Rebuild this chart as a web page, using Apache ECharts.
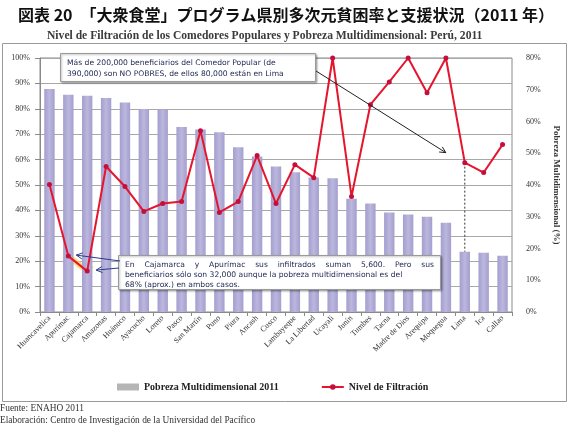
<!DOCTYPE html>
<html><head><meta charset="utf-8">
<script src="https://cdn.jsdelivr.net/npm/echarts@6/dist/echarts.min.js"></script>
<style>html,body{margin:0;padding:0;background:#fff}#c{width:572px;height:442px}</style>
</head><body><div id="c"></div>
<script>
const categories = ['Huancavelica','Apurímac','Cajamarca','Amazonas','Huánuco','Ayacucho','Loreto','Pasco','San Martín','Puno','Piura','Ancash','Cusco','Lambayeque','La Libertad','Ucayali','Junín','Tumbes','Tacna','Madre de Dios','Arequipa','Moquegua','Lima','Ica','Callao'];
const pobreza = [70.2,68.4,68.1,67.4,66.0,63.9,63.7,58.3,57.5,56.6,51.9,49.0,45.8,44.0,42.4,42.1,35.7,34.2,31.3,30.7,30.0,28.1,19.0,18.7,17.7];
const filtracion = [50.2,22.0,16.1,57.3,49.4,39.6,42.7,43.5,71.4,39.2,43.5,61.6,42.7,58.0,52.9,100,45.5,81.6,90.6,100,86.3,100,58.8,54.9,65.9];
const leftAxisMax = 100, leftAxisStep = 10;
const rightAxisMax = 80, rightAxisStep = 10;
const seriesNames = ['Pobreza Multidimensional 2011','Nivel de Filtración'];
const mainTitle = '図表 20　「大衆食堂」プログラム県別多次元貧困率と支援状況（2011 年）';
const subTitle = 'Nivel de Filtración de los Comedores Populares y Pobreza Multidimensional: Perú, 2011';
const note1 = ['Más de 200,000 beneficiarios del Comedor Popular (de','390,000) son NO POBRES, de ellos 80,000 están en Lima'];
const note2 = ['En Cajamarca y Apurímac sus infiltrados suman 5,600. Pero sus','beneficiarios sólo son 32,000 aunque la pobreza multidimensional es del','68% (aprox.) en ambos casos.'];
const footer = ['Fuente: ENAHO 2011','Elaboración: Centro de Investigación de la Universidad del Pacífico'];

const chart = echarts.init(document.getElementById('c'), null, {renderer:'canvas'});
const serif = "'Liberation Serif', 'Times New Roman', serif";
const option = {
  animation:false,
  backgroundColor:'#fff',
  textStyle:{fontFamily:serif},
  title:[
    {text:mainTitle, left:'center', top:2, textStyle:{fontFamily:'Noto Sans CJK JP', fontWeight:'bold', fontSize:16, color:'#111'}},
    {text:subTitle, left:42, top:25, textStyle:{fontFamily:serif, fontWeight:'bold', fontSize:11.6, color:'#3a3a3a'}}
  ],
  grid:{left:40, right:60, top:58, height:254, show:true, borderColor:'#8a8a8a', borderWidth:1, backgroundColor:'#fff'},
  legend:{
    left:112, top:377, itemWidth:22, itemHeight:7, itemGap:42,
    textStyle:{fontFamily:serif, fontWeight:'bold', fontSize:10, color:'#222'},
    data:[{name:seriesNames[0], icon:'rect', itemStyle:{color:'#b5b5b5'}}, {name:seriesNames[1]}]
  },
  xAxis:{
    type:'category', data:categories,
    axisLine:{lineStyle:{color:'#8a8a8a'}},
    axisTick:{show:true, lineStyle:{color:'#8a8a8a'}, length:4},
    axisLabel:{rotate:45, interval:0, fontSize:8, color:'#333', margin:5, fontFamily:serif}
  },
  yAxis:[
    {type:'value', min:0, max:leftAxisMax, interval:leftAxisStep,
     axisLabel:{formatter:'{value}%', fontSize:8, color:'#333', margin:10, fontFamily:serif},
     axisLine:{show:true, lineStyle:{color:'#8a8a8a'}},
     axisTick:{show:true, length:5, lineStyle:{color:'#8a8a8a'}},
     splitLine:{lineStyle:{color:'#a8a8a8', width:1}}},
    {type:'value', min:0, max:rightAxisMax, interval:rightAxisStep, position:'right',
     name:'Pobreza Multidimensional (%)', nameLocation:'middle', nameRotate:-90, nameGap:38,
     nameTextStyle:{fontFamily:serif, fontWeight:'bold', fontSize:9, color:'#333'},
     axisLabel:{formatter:'{value}%', fontSize:8, color:'#333', margin:14, fontFamily:serif},
     axisLine:{show:false}, axisTick:{show:false}, splitLine:{show:false}}
  ],
  series:[
    {name:seriesNames[0], type:'bar', yAxisIndex:1, data:pobreza, barWidth:'55%',
     itemStyle:{color:new echarts.graphic.LinearGradient(0,0,1,0,[{offset:0,color:'#a39ecd'},{offset:0.5,color:'#bcb7de'},{offset:1,color:'#a39ecd'}])}},
    {name:seriesNames[1], type:'line', yAxisIndex:0, data:filtracion, z:5,
     symbol:'circle', symbolSize:5, showSymbol:true,
     lineStyle:{color:'#e5152e', width:2},
     itemStyle:{color:'#c40f3c'}}
  ]
};
chart.setOption(option);

// annotations
const ctx = document.createElement('canvas').getContext('2d');
const noteFont = "7.6px 'DejaVu Sans'";
const noteColor = '#1c2452';
function justify(text, x0, x1, y){
  ctx.font = noteFont;
  const words = text.split(' ');
  const widths = words.map(w => ctx.measureText(w).width);
  const total = widths.reduce((a,b)=>a+b,0);
  const gap = (x1 - x0 - total)/(words.length-1);
  let x = x0;
  return words.map((w,i)=>{const el={type:'text', x:x, y:y, z:20, style:{text:w, font:noteFont, fill:noteColor, textVerticalAlign:'middle'}}; x += widths[i]+gap; return el;});
}
function plain(text, x, y){
  return {type:'text', x:x, y:y, z:20, style:{text:text, font:noteFont, fill:noteColor, textVerticalAlign:'middle'}};
}
function arrow(x1,y1,x2,y2,color,w){
  const a = Math.atan2(y2-y1, x2-x1), L=6, W=3;
  const bx = x2-L*Math.cos(a), by = y2-L*Math.sin(a);
  const nx = -Math.sin(a), ny = Math.cos(a);
  return [
    {type:'line', z:18, shape:{x1:x1,y1:y1,x2:x2,y2:y2}, style:{stroke:color, lineWidth:w}},
    {type:'polyline', z:18, shape:{points:[[bx+nx*W,by+ny*W],[x2,y2],[bx-nx*W,by-ny*W]]}, style:{stroke:color, lineWidth:w, fill:null}}
  ];
}
const lp = i => chart.convertToPixel({seriesIndex:1}, [i, filtracion[i]]);
const bp = i => chart.convertToPixel({seriesIndex:0}, [i, pobreza[i]]);
const iLima = categories.indexOf('Lima'), iApu = categories.indexOf('Apurímac'), iCaj = categories.indexOf('Cajamarca');
const pLima = lp(iLima), bLima = bp(iLima), pApu = lp(iApu), pCaj = lp(iCaj);

const els = [];
els.push({type:'rect', z:0, shape:{x:2.5, y:43.5, width:564, height:358}, style:{fill:null, stroke:'#9a9a9a', lineWidth:1}});
els.push({type:'polyline', z:1, shape:{points:[[pApu[0]-3,pApu[1]-3],pApu,pCaj,[pCaj[0]+4,pCaj[1]-6]]}, style:{stroke:'rgba(255,214,90,0.75)', lineWidth:6, fill:null}});
els.push({type:'line', z:3, shape:{x1:pLima[0], y1:pLima[1], x2:bLima[0], y2:bLima[1]}, style:{stroke:'#333', lineWidth:1, lineDash:[2,2]}});
els.push({type:'rect', z:15, shape:{x:60.5, y:53.5, width:255, height:28}, style:{fill:'#fff', stroke:'#9a9a9a', lineWidth:1, shadowBlur:2, shadowOffsetX:1, shadowOffsetY:1, shadowColor:'rgba(0,0,0,0.3)'}});
els.push(plain(note1[0], 67, 63.5));
els.push(plain(note1[1], 67, 74.5));
els.push(...arrow(316, 71, pLima[0]-19, pLima[1]-10, '#222', 1));
els.push({type:'rect', z:15, shape:{x:118.5, y:255.5, width:322, height:34}, style:{fill:'#fff', stroke:'#9a9a9a', lineWidth:1, shadowBlur:2, shadowOffsetX:1, shadowOffsetY:1, shadowColor:'rgba(0,0,0,0.3)'}});
els.push(...justify(note2[0], 125, 434, 265.5));
els.push(plain(note2[1], 125, 275.5));
els.push(plain(note2[2], 125, 285.5));
els.push(...arrow(120, 261, pApu[0]+8, pApu[1]-1, '#2b3b8c', 1));
els.push(...arrow(119, 268, pCaj[0]+9, pCaj[1]-1, '#2b3b8c', 1));
els.push({type:'text', x:0, y:409, style:{text:footer[0], font:"9.4px 'Liberation Serif'", fill:'#333', textVerticalAlign:'middle'}});
els.push({type:'text', x:0, y:421, style:{text:footer[1], font:"9.4px 'Liberation Serif'", fill:'#333', textVerticalAlign:'middle'}});
chart.setOption({graphic:{elements:els}});
</script></body></html>
